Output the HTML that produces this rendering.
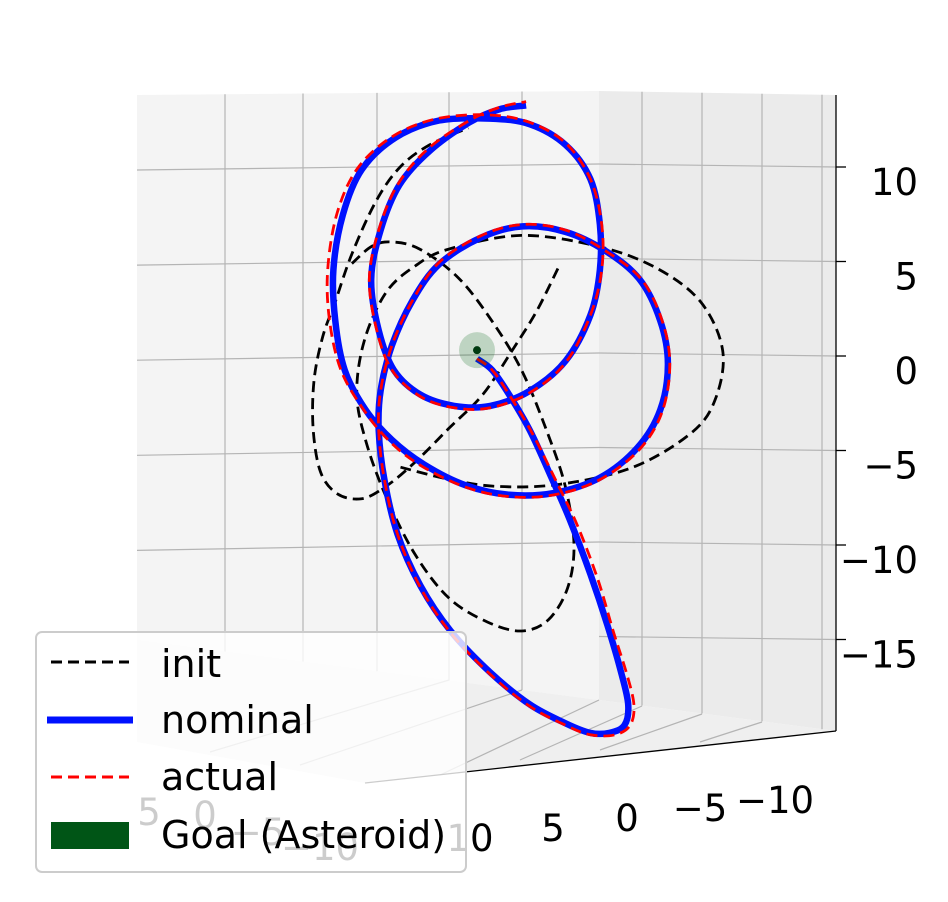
<!DOCTYPE html>
<html><head><meta charset="utf-8"><style>
html,body{margin:0;padding:0;background:#fff;width:948px;height:902px;overflow:hidden}
svg text{font-family:"DejaVu Sans","Liberation Sans",sans-serif}
</style></head><body>
<svg id="chart" width="948" height="902" viewBox="0 0 948 902" xmlns="http://www.w3.org/2000/svg">
<g id="panes">
<polygon points="137,95 599,91 599,700 137,640" fill="#f4f4f4"/>
<polygon points="599,91 836,95 836,731 599,700" fill="#ebebeb"/>
<polygon points="137,640 599,700 836,731 365,783 137,742" fill="#efefef"/>
</g>
<g id="grid" stroke="#b4b4b4" stroke-width="1.2" fill="none"></g>
<g id="axes" stroke="#000" stroke-width="1.3">
<line x1="836" y1="95" x2="836" y2="731"/>
<line x1="836" y1="731" x2="365" y2="783"/>
</g>
<g id="ticks" font-size="37" fill="#000"></g>
<g id="series"></g>
<g id="legend">
<rect x="36" y="632" width="430" height="240" rx="6" fill="rgba(255,255,255,0.8)" stroke="#cccccc" stroke-width="2"/>
<line x1="51" y1="662" x2="129" y2="662" stroke="#000" stroke-width="3" stroke-dasharray="11,6"/>
<text x="161" y="677" font-size="38">init</text>
<line x1="47" y1="720" x2="133" y2="720" stroke="#0011ff" stroke-width="7"/>
<text x="161" y="733" font-size="38">nominal</text>
<line x1="51" y1="777" x2="129" y2="777" stroke="#ff0000" stroke-width="3" stroke-dasharray="11,6"/>
<text x="161" y="790" font-size="38">actual</text>
<rect x="51" y="822" width="78" height="27" fill="#005516"/>
<text x="161" y="848" font-size="38">Goal (Asteroid)</text>
</g>
</svg>
<script>
// horizontal (projected) coordinate and z (vertical) coordinate of each series
const zTicks = [10, 5, 0, -5, -10, -15];
const zTickLabels = ["10", "5", "0", "\u22125", "\u221210", "\u221215"];
const goalU = [0];
const goalZ = [0.15];
const nominalU = [0,0.8,1.7,2.8,3.9,4.9,6.0,6.9,7.6,8.0,7.8,7.0,6.0,4.7,2.8,0.7,-1.4,-3.0,-4.2,-4.9,-5.2,-5.1,-4.5,-3.4,-2.0,0.2,2.4,4.7,6.8,8.6,9.7,10.1,9.7,8.5,6.5,4.1,1.7,-0.6,-2.8,-4.5,-5.9,-7.0,-7.5,-7.6,-7.1,-6.1,-4.3,-2.0,0.7,2.8,4.7,6.0,6.5,6.5,6.0,4.7,2.8,0.7,-1.2,-3.0,-4.4,-5.2,-5.6,-5.1,-4.1,-2.5,-0.4,1.2,2.6];
const nominalZ = [-0.3,-0.9,-2.2,-4.1,-6.5,-8.8,-11.7,-14.4,-16.8,-18.6,-19.7,-20.1,-20.1,-19.6,-18.6,-16.9,-14.7,-12.3,-9.6,-6.7,-4.1,-2.0,0.4,2.8,4.7,6.1,6.7,6.4,5.4,3.9,1.7,-0.6,-3.0,-5.0,-6.6,-7.4,-7.5,-7.0,-5.9,-4.6,-3.0,-0.9,1.7,4.4,7.3,9.7,11.4,12.3,12.4,12.1,11.0,9.2,6.8,4.4,2.0,-0.4,-2.0,-2.8,-2.8,-2.2,-0.9,1.2,3.9,6.5,8.9,10.7,12.2,12.9,13.1];
const actualU = [0,0.8,1.7,2.9,4.1,5.3,6.4,7.2,7.9,8.3,8.1,7.3,6.0,4.7,2.8,0.7,-1.4,-3.0,-4.2,-4.9,-5.2,-5.1,-4.5,-3.4,-2.0,0.2,2.4,4.7,6.8,8.7,9.8,10.2,9.8,8.6,6.5,4.1,1.7,-0.6,-2.9,-4.6,-6.0,-7.2,-7.8,-7.9,-7.4,-6.3,-4.4,-2.1,0.6,2.8,4.7,6.0,6.6,6.6,6.0,4.7,2.8,0.7,-1.2,-3.0,-4.5,-5.3,-5.7,-5.2,-4.2,-2.6,-0.4,1.2,2.6];
const actualZ = [-0.3,-0.9,-2.2,-4.2,-6.6,-9.1,-12.0,-14.7,-16.9,-18.6,-19.7,-20.2,-20.2,-19.7,-18.7,-17.0,-14.8,-12.4,-9.6,-6.7,-4.1,-2.0,0.4,2.8,4.8,6.2,6.8,6.5,5.4,3.9,1.7,-0.6,-3.1,-5.1,-6.7,-7.5,-7.6,-7.1,-6.0,-4.7,-3.0,-0.9,1.7,4.4,7.4,9.8,11.5,12.4,12.6,12.2,11.1,9.2,6.8,4.4,2.0,-0.5,-2.1,-2.9,-2.9,-2.3,-0.9,1.2,3.9,6.5,8.9,10.8,12.3,13.0,13.3];
const initAU = [4.28,3.13,1.85,0.31,-1.49,-3.28,-4.82,-6.10,-7.39,-8.28,-8.67,-8.62,-8.16,-7.51,-6.62,-5.33,-4.05,-2.51,-0.46];
const initAZ = [4.47,2.17,0.12,-2.19,-3.99,-5.78,-7.06,-7.71,-7.45,-6.29,-3.99,-1.42,0.88,2.68,5.24,8.06,9.86,11.01,11.91];
const initBU = [-6.62,-5.59,-4.57,-3.03,-0.97,0.82,2.36,3.64,4.67,5.13,4.79,3.77,2.36,0.56,-1.49,-3.28,-4.82,-5.85,-6.36,-5.97,-4.82,-3.28,-1.49,2.36,6.46,9.54,11.85,13.0,12.61,11.33,8.26,4.41,1.08,-1.49,-4.05];
const initBZ = [4.73,5.63,5.88,5.50,3.96,1.65,-0.91,-3.99,-7.06,-10.14,-12.45,-14.12,-14.71,-14.24,-12.96,-10.65,-7.58,-4.76,-2.19,0.63,3.19,4.60,5.50,6.22,5.63,4.47,2.68,0.12,-2.45,-4.24,-6.04,-6.94,-7.06,-6.68,-6.04];

const NS = "http://www.w3.org/2000/svg";
function X(u){ return 477 + u * 18.9; }
function Y(z){ return 353 - z * 18.9; }
function mk(tag, attrs, parent){ const e = document.createElementNS(NS, tag); for (const k in attrs) e.setAttribute(k, attrs[k]); parent.appendChild(e); return e; }
function pathFrom(us, zs){
  const p = us.map((u,i)=>[X(u), Y(zs[i])]);
  let d = "M" + p[0][0].toFixed(1) + "," + p[0][1].toFixed(1);
  for (let i = 0; i < p.length - 1; i++) {
    const p0 = p[i-1] || p[i], p1 = p[i], p2 = p[i+1], p3 = p[i+2] || p2;
    const c1 = [p1[0] + (p2[0]-p0[0])/6, p1[1] + (p2[1]-p0[1])/6];
    const c2 = [p2[0] - (p3[0]-p1[0])/6, p2[1] - (p3[1]-p1[1])/6];
    d += " C" + c1[0].toFixed(1) + "," + c1[1].toFixed(1) + " " + c2[0].toFixed(1) + "," + c2[1].toFixed(1) + " " + p2[0].toFixed(1) + "," + p2[1].toFixed(1);
  }
  return d;
}

// grid
const grid = document.getElementById("grid");
[225,303,377,449,522].forEach(x=>{
  const l = mk("line",{x1:x,y1:95-(x-137)*0.009,x2:x,y2:640+(x-137)*0.13},grid);
  
  
});
[642,702,762,822].forEach(x=>{
  const l = mk("line",{x1:x,y1:91+(x-599)*0.017,x2:x,y2:700+(x-599)*0.131},grid);
  
  
});
zTicks.forEach((t,i)=>{
  const yr = Y(t);
  if (t !== -15) {
    const l = mk("line",{x1:137,y1:yr+6+i*0.6,x2:599,y2:yr},grid);
    
    
  }
  const l2 = mk("line",{x1:599,y1:yr,x2:836,y2:yr+3},grid);
  
  
});
[[642,706,520,760],[702,714,600,750],[762,722,700,742],[599,700,440,775],[522,690,300,765],[449,680,210,752]].forEach(p=>{
  const l = mk("line",{x1:p[0],y1:p[1],x2:p[2],y2:p[3]},grid);
  
  
});

// ticks
const ticks = document.getElementById("ticks");
zTicks.forEach((t,i)=>{
  const tk = mk("line",{x1:836,y1:Y(t)+3,x2:846,y2:Y(t)+3,stroke:"#000","stroke-width":1.3},ticks);
  
  
  const tx = mk("text",{x:918,y:Y(t)+31,"text-anchor":"end"},ticks);
  tx.textContent = zTickLabels[i];
  
  
});
[["\u221210",775,813],["\u22125",700,821],["0",627,831],["5",553,841],["10",470,851]].forEach(p=>{
  const tx = mk("text",{x:p[1],y:p[2],"text-anchor":"middle"},ticks);
  tx.textContent = p[0];
  
  
});
[["5",149,825],["0",205,828],["\u22125",258,845],["\u221210",320,860]].forEach(p=>{
  const tx = mk("text",{x:p[1],y:p[2],"text-anchor":"middle"},ticks);
  tx.textContent = p[0];
  
  
});

// series
const series = document.getElementById("series");
const iA = mk("path",{d:pathFrom(initAU,initAZ),fill:"none",stroke:"#000","stroke-width":2.8,"stroke-dasharray":"11,6"},series);


const iB = mk("path",{d:pathFrom(initBU,initBZ),fill:"none",stroke:"#000","stroke-width":2.8,"stroke-dasharray":"11,6"},series);


const nom = mk("path",{d:pathFrom(nominalU,nominalZ),fill:"none",stroke:"#0011ff","stroke-width":6.5,"stroke-linejoin":"round"},series);


const act = mk("path",{d:pathFrom(actualU,actualZ),fill:"none",stroke:"#ff0000","stroke-width":2.8,"stroke-dasharray":"11,6"},series);


const gh = mk("circle",{cx:X(goalU[0]),cy:Y(goalZ[0]),r:18,fill:"rgba(0,100,20,0.22)"},series);


const gd = mk("circle",{cx:X(goalU[0]),cy:Y(goalZ[0]),r:4,fill:"#003a10"},series);


</script>
</body></html>
